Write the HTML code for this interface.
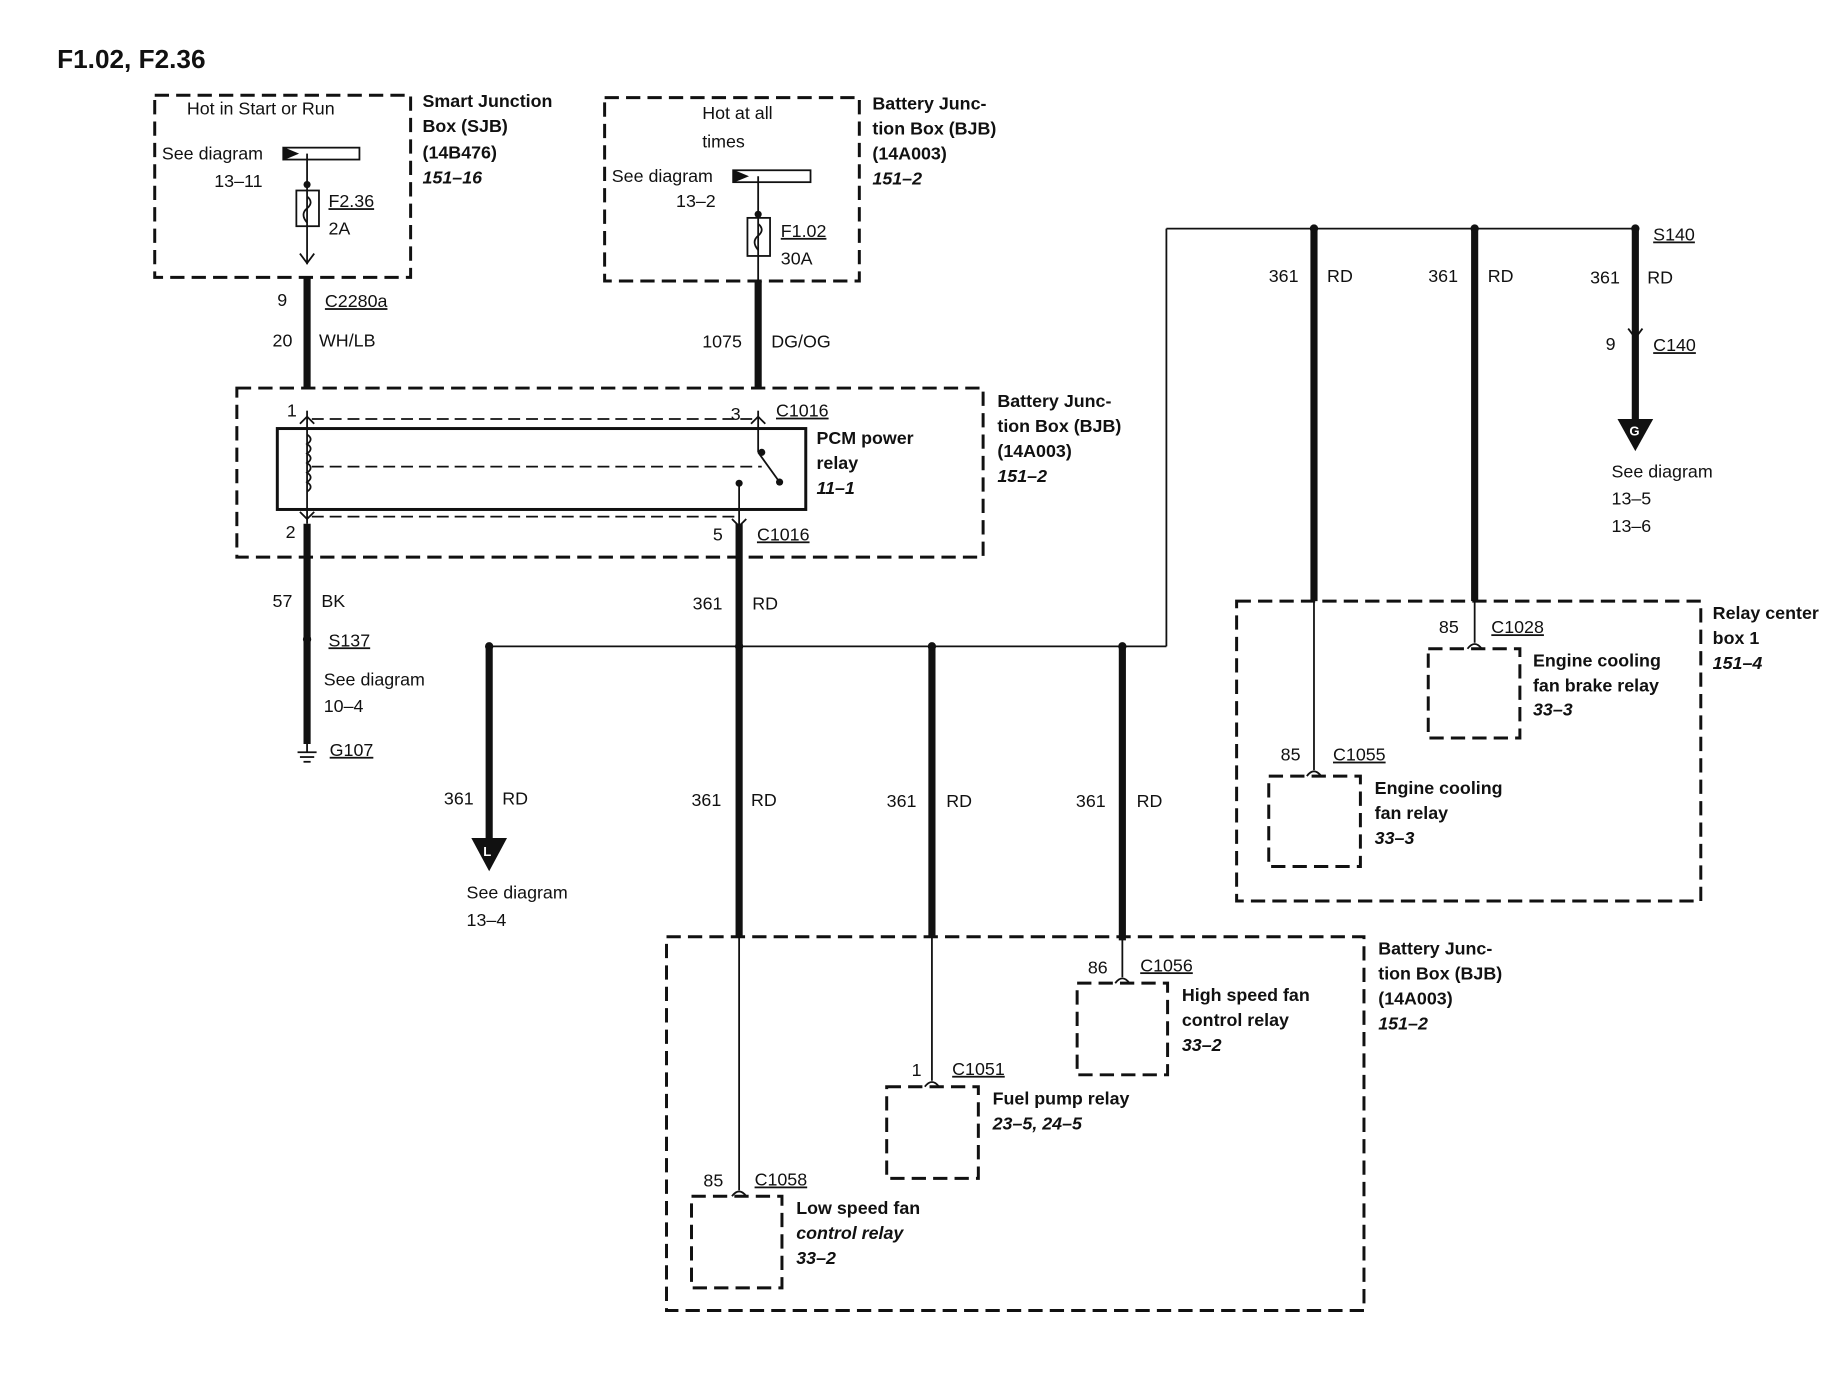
<!DOCTYPE html>
<html><head><meta charset="utf-8"><style>
html,body{margin:0;padding:0;background:#fff}
svg{display:block}
text{font-family:"Liberation Sans",Arial,sans-serif;font-size:15px;fill:#111}
.b{font-weight:bold}
.bi{font-weight:bold;font-style:italic}
.u{text-decoration:underline}
</style></head><body>
<svg width="1846" height="1376" viewBox="0 0 1551 1156" xmlns="http://www.w3.org/2000/svg">
<g fill="none" stroke="#111">
 <g stroke-width="2.5" stroke-dasharray="12,6">
  <rect x="130" y="80" width="215" height="153"/>
  <rect x="508" y="82" width="214" height="154"/>
  <rect x="199" y="326" width="627" height="142"/>
  <rect x="1039" y="505" width="390" height="252"/>
  <rect x="560" y="787" width="586" height="314"/>
  <rect x="1200" y="545" width="77" height="75"/>
  <rect x="1066" y="652" width="77" height="76"/>
  <rect x="905" y="826" width="76" height="77"/>
  <rect x="745" y="913" width="77" height="77"/>
  <rect x="581" y="1005" width="76" height="77"/>
 </g>
 <g stroke-width="1.5" stroke-dasharray="10,5">
  <line x1="262" y1="352" x2="637" y2="352"/>
  <line x1="262" y1="392" x2="640" y2="392"/>
  <line x1="262" y1="434" x2="621" y2="434"/>
 </g>
 <rect x="233" y="360" width="444" height="68" stroke-width="2.5"/>
 <!-- thin wires -->
 <g stroke-width="1.5">
  <line x1="258" y1="129" x2="258" y2="222"/>
  <line x1="637" y1="148" x2="637" y2="236"/>
  <line x1="258" y1="345" x2="258" y2="440"/>
  <line x1="637" y1="345" x2="637" y2="380"/>
  <line x1="637" y1="380" x2="655" y2="405"/>
  <line x1="621" y1="406" x2="621" y2="445"/>
  <line x1="411" y1="543" x2="980" y2="543"/>
  <line x1="980" y1="543" x2="980" y2="192"/>
  <line x1="980" y1="192" x2="1374" y2="192"/>
  <line x1="621" y1="787" x2="621" y2="1000"/>
  <line x1="783" y1="787" x2="783" y2="908"/>
  <line x1="943" y1="787" x2="943" y2="821"/>
  <line x1="1104" y1="505" x2="1104" y2="647"/>
  <line x1="1239" y1="505" x2="1239" y2="540"/>
  <line x1="258" y1="625" x2="258" y2="632"/>
  <line x1="250" y1="632" x2="266" y2="632"/>
  <line x1="252" y1="636" x2="264" y2="636"/>
  <line x1="255" y1="640" x2="261" y2="640"/>
  <path d="M258 365 q6 4 0 8 q6 4 0 8 q6 4 0 8 q6 4 0 8 q6 4 0 8 q6 4 0 8"/>
  <path d="M258 165 q6 5 0 10 q-6 5 0 12"/>
  <path d="M637 188 q6 5 0 10 q-6 5 0 12"/>
  <rect x="249" y="160" width="19" height="30"/>
  <rect x="628" y="183" width="19" height="32"/>
  <rect x="238" y="124" width="64" height="10"/>
  <rect x="616" y="143" width="65" height="10"/>
  <path d="M252 356 l6 -6 l6 6 M252 430 l6 6 l6 -6 M631 356 l6 -6 l6 6 M615 436 l6 6 l6 -6"/>
  <path d="M1233 545 q6 -8 12 0 M1098 652 q6 -8 12 0 M937 826 q6 -8 12 0 M777 913 q6 -8 12 0 M615 1005 q6 -8 12 0"/>
  <path d="M252 213 l6 8 l6 -8 M1368 276 l6 8 l6 -8"/>
 </g>
 <path d="M238 124 l12 5 l-12 5z M616 143 l12 5 l-12 5z" fill="#111"/>
 <!-- thick wires -->
 <g stroke-width="6">
  <line x1="258" y1="233" x2="258" y2="326"/>
  <line x1="637" y1="236" x2="637" y2="326"/>
  <line x1="258" y1="440" x2="258" y2="625"/>
  <line x1="621" y1="440" x2="621" y2="787"/>
  <line x1="411" y1="543" x2="411" y2="706"/>
  <line x1="783" y1="543" x2="783" y2="787"/>
  <line x1="943" y1="543" x2="943" y2="790"/>
  <line x1="1104" y1="192" x2="1104" y2="505"/>
  <line x1="1239" y1="192" x2="1239" y2="505"/>
  <line x1="1374" y1="192" x2="1374" y2="352"/>
 </g>
</g>
<g fill="#111">
 <circle cx="258" cy="155" r="3"/><circle cx="637" cy="180" r="3"/>
 <circle cx="640" cy="380" r="3"/><circle cx="655" cy="405" r="3"/><circle cx="621" cy="406" r="3"/>
 <circle cx="258" cy="537" r="3.5"/>
 <circle cx="411" cy="543" r="3.5"/><circle cx="621" cy="543" r="3.5"/><circle cx="783" cy="543" r="3.5"/><circle cx="943" cy="543" r="3.5"/>
 <circle cx="1104" cy="192" r="3.5"/><circle cx="1239" cy="192" r="3.5"/><circle cx="1374" cy="192" r="3.5"/>
 <path d="M396 704 h30 l-15 28z"/>
 <path d="M1359 352 h30 l-15 27z"/>
</g>
<text x="406" y="719" fill="#fff" style="fill:#fff;font-size:11px" class="b">L</text>
<text x="1369" y="366" style="fill:#fff;font-size:11px" class="b">G</text>

<text x="48" y="57" class="b" style="font-size:22px">F1.02, F2.36</text>
<text x="157" y="96">Hot in Start or Run</text>
<text x="136" y="134">See diagram</text>
<text x="180" y="157">13–11</text>
<text x="276" y="174" class="u">F2.36</text>
<text x="276" y="197">2A</text>
<text x="355" y="90" class="b">Smart Junction</text>
<text x="355" y="111" class="b">Box (SJB)</text>
<text x="355" y="133" class="b">(14B476)</text>
<text x="355" y="154" class="bi">151–16</text>
<text x="233" y="257">9</text><text x="273" y="258" class="u">C2280a</text>
<text x="229" y="291">20</text><text x="268" y="291">WH/LB</text>

<text x="590" y="100">Hot at all</text>
<text x="590" y="124">times</text>
<text x="514" y="153">See diagram</text>
<text x="568" y="174">13–2</text>
<text x="656" y="199" class="u">F1.02</text>
<text x="656" y="222">30A</text>
<text x="733" y="92" class="b">Battery Junc-</text>
<text x="733" y="113" class="b">tion Box (BJB)</text>
<text x="733" y="134" class="b">(14A003)</text>
<text x="733" y="155" class="bi">151–2</text>
<text x="590" y="292">1075</text><text x="648" y="292">DG/OG</text>

<text x="241" y="350">1</text><text x="614" y="353">3</text><text x="652" y="350" class="u">C1016</text>
<text x="240" y="452">2</text><text x="599" y="454">5</text><text x="636" y="454" class="u">C1016</text>
<text x="686" y="373" class="b">PCM power</text>
<text x="686" y="394" class="b">relay</text>
<text x="686" y="415" class="bi">11–1</text>
<text x="838" y="342" class="b">Battery Junc-</text>
<text x="838" y="363" class="b">tion Box (BJB)</text>
<text x="838" y="384" class="b">(14A003)</text>
<text x="838" y="405" class="bi">151–2</text>

<text x="229" y="510">57</text><text x="270" y="510">BK</text>
<text x="276" y="543" class="u">S137</text>
<text x="272" y="576">See diagram</text>
<text x="272" y="598">10–4</text>
<text x="277" y="635" class="u">G107</text>
<text x="582" y="512">361</text><text x="632" y="512">RD</text>

<text x="373" y="676">361</text><text x="422" y="676">RD</text>
<text x="392" y="755">See diagram</text>
<text x="392" y="778">13–4</text>
<text x="581" y="677">361</text><text x="631" y="677">RD</text>
<text x="745" y="678">361</text><text x="795" y="678">RD</text>
<text x="904" y="678">361</text><text x="955" y="678">RD</text>

<text x="1066" y="237">361</text><text x="1115" y="237">RD</text>
<text x="1200" y="237">361</text><text x="1250" y="237">RD</text>
<text x="1336" y="238">361</text><text x="1384" y="238">RD</text>
<text x="1389" y="202" class="u">S140</text>
<text x="1349" y="294">9</text><text x="1389" y="295" class="u">C140</text>
<text x="1354" y="401">See diagram</text>
<text x="1354" y="424">13–5</text>
<text x="1354" y="447">13–6</text>

<text x="1439" y="520" class="b">Relay center</text>
<text x="1439" y="541" class="b">box 1</text>
<text x="1439" y="562" class="bi">151–4</text>
<text x="1209" y="532">85</text><text x="1253" y="532" class="u">C1028</text>
<text x="1288" y="560" class="b">Engine cooling</text>
<text x="1288" y="581" class="b">fan brake relay</text>
<text x="1288" y="601" class="bi">33–3</text>
<text x="1076" y="639">85</text><text x="1120" y="639" class="u">C1055</text>
<text x="1155" y="667" class="b">Engine cooling</text>
<text x="1155" y="688" class="b">fan relay</text>
<text x="1155" y="709" class="bi">33–3</text>

<text x="1158" y="802" class="b">Battery Junc-</text>
<text x="1158" y="823" class="b">tion Box (BJB)</text>
<text x="1158" y="844" class="b">(14A003)</text>
<text x="1158" y="865" class="bi">151–2</text>
<text x="914" y="818">86</text><text x="958" y="816" class="u">C1056</text>
<text x="993" y="841" class="b">High speed fan</text>
<text x="993" y="862" class="b">control relay</text>
<text x="993" y="883" class="bi">33–2</text>
<text x="766" y="904">1</text><text x="800" y="903" class="u">C1051</text>
<text x="834" y="928" class="b">Fuel pump relay</text>
<text x="834" y="949" class="bi">23–5, 24–5</text>
<text x="591" y="997">85</text><text x="634" y="996" class="u">C1058</text>
<text x="669" y="1020" class="b">Low speed fan</text>
<text x="669" y="1041" class="bi">control relay</text>
<text x="669" y="1062" class="bi">33–2</text>
</svg>
</body></html>
